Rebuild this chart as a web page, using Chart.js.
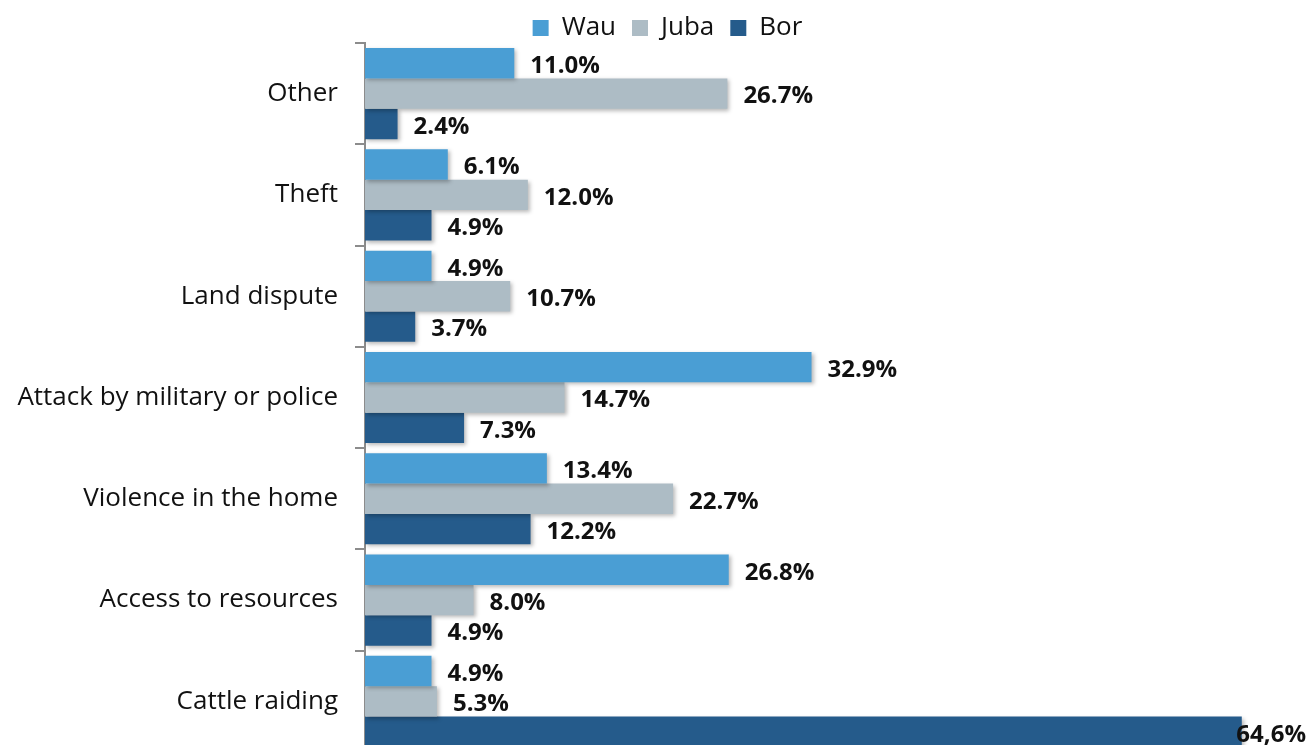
<!DOCTYPE html>
<html>
<head>
<meta charset="utf-8">
<script src="https://cdn.jsdelivr.net/npm/chart.js@4/dist/chart.umd.min.js"></script>
<style>
  html, body { margin: 0; padding: 0; background: #fff; overflow: hidden; }
  canvas { display: block; }
</style>
</head>
<body>
<canvas id="chart" width="1311" height="752"></canvas>
<script>
'use strict';
// Przyczyny konfliktów wg miasta — udział odpowiedzi (%)

const categories = ['Other', 'Theft', 'Land dispute', 'Attack by military or police',
                    'Violence in the home', 'Access to resources', 'Cattle raiding'];
const wau  = [11.0, 6.1, 4.9, 32.9, 13.4, 26.8, 4.9];
const juba = [26.7, 12.0, 10.7, 14.7, 22.7, 8.0, 5.3];
const bor  = [2.4, 4.9, 3.7, 7.3, 12.2, 4.9, 64.6];

// w tabeli źródłowej ta jedna wartość była wpisana z przecinkiem
const commaAt = { Bor: [6] };

const FONT = '"Open Sans", Lato, sans-serif';
const AXIS_X = 365;

// legenda nieco niżej i w prawo, nachodzi na górę obszaru wykresu
const legendShift = {
  id: 'legendShift',
  afterLayout(chart) {
    const l = chart.legend;
    l.top += 8; l.bottom += 8;
    l.left += 12; l.right += 12;
  }
};

// cień pod słupkami
const barShadow = {
  id: 'barShadow',
  beforeDatasetsDraw(chart) {
    const c = chart.ctx;
    c.save();
    c.shadowColor = 'rgba(0,0,0,0.28)';
    c.shadowBlur = 4;
    c.shadowOffsetX = 2;
    c.shadowOffsetY = 2;
  },
  afterDatasetsDraw(chart) { chart.ctx.restore(); }
};

// etykiety wartości za końcem słupka
const valueLabels = {
  id: 'valueLabels',
  afterDatasetsDraw(chart) {
    const c = chart.ctx;
    c.save();
    c.font = `bold 24px ${FONT}`;
    c.fillStyle = '#111';
    c.textBaseline = 'middle';
    chart.data.datasets.forEach((ds, di) => {
      chart.getDatasetMeta(di).data.forEach((bar, i) => {
        let txt = ds.data[i].toFixed(1) + '%';
        if ((commaAt[ds.label] || []).includes(i)) txt = txt.replace('.', ',');
        const w = c.measureText(txt).width;
        const x = Math.min(bar.x + 16, chart.width - 5 - w);
        c.fillText(txt, x, bar.y + 3);
      });
    });
    c.restore();
  }
};

new Chart(document.getElementById('chart'), {
  type: 'bar',
  data: {
    labels: categories,
    datasets: [
      { label: 'Wau',  data: wau,  backgroundColor: '#4a9ed4' },
      { label: 'Juba', data: juba, backgroundColor: '#adbcc5' },
      { label: 'Bor',  data: bor,  backgroundColor: '#255b8b' },
    ],
  },
  options: {
    indexAxis: 'y',
    responsive: false,
    animation: false,
    datasets: { bar: { categoryPercentage: 0.9, barPercentage: 1.0 } },
    layout: { padding: { left: 0, top: -9, right: 0, bottom: 0 } },
    plugins: {
      legend: {
        position: 'top',
        labels: {
          font: { family: FONT, size: 26 }, color: '#111',
          boxWidth: 16, boxHeight: 16, padding: 16,
        },
      },
      tooltip: { enabled: false },
    },
    scales: {
      x: { display: false, min: 0, max: 69.7 },
      y: {
        afterFit(s) {
          s.width = AXIS_X;
          s.paddingTop = 0;
          s.paddingBottom = 0;
        },
        border: { display: true, color: '#8c8c8c', width: 2 },
        grid: { offset: true, drawOnChartArea: false, tickLength: 10, color: '#8c8c8c', lineWidth: 2 },
        ticks: { font: { family: FONT, size: 26 }, color: '#111', padding: 17 },
      },
    },
  },
  plugins: [legendShift, barShadow, valueLabels],
});
</script>
</body>
</html>
